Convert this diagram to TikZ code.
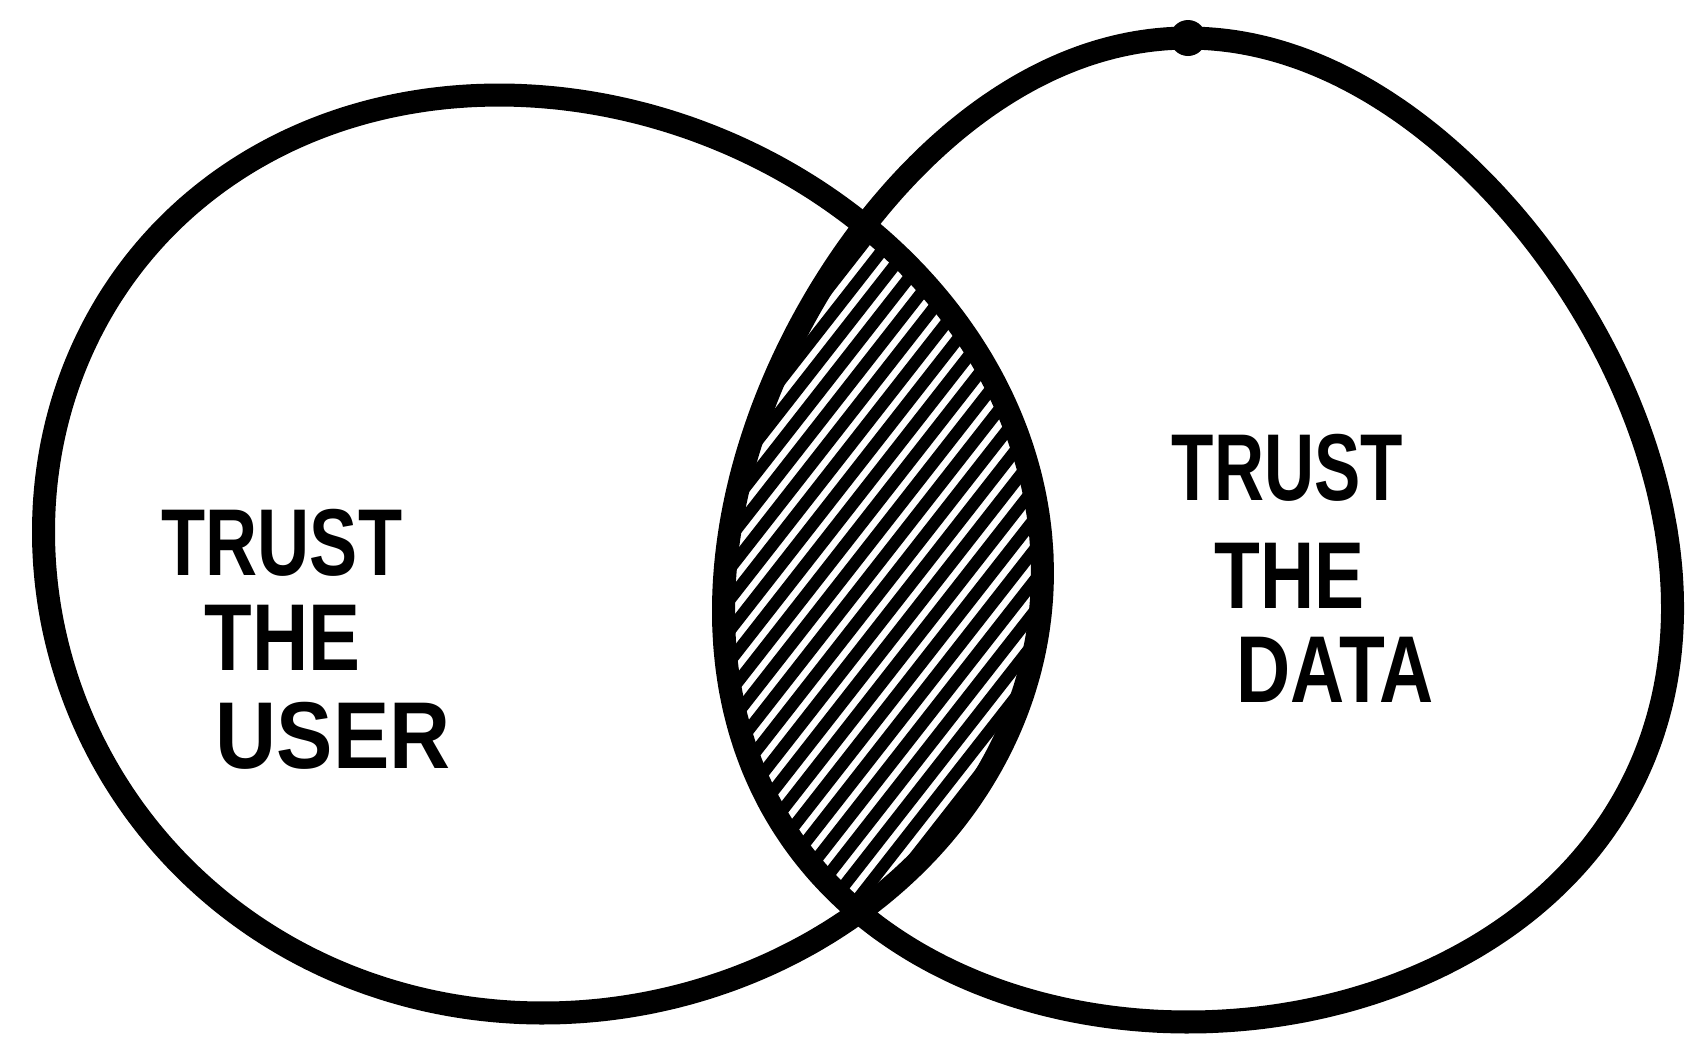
\documentclass[tikz,border=0pt]{standalone}
\usepackage{fontspec}
\setmainfont{Liberation Sans}
\begin{document}
\begin{tikzpicture}[x=0.01cm,y=-0.01cm,
  outline/.style={line width=0.23cm, line join=round, line cap=round},
  hatch/.style={line width=0.12cm, line cap=round},
  word/.style={inner sep=0pt, anchor=base west, font=\bfseries\fontsize{27}{30}\selectfont}]
\useasboundingbox[fill=white] (0,0) rectangle (1685,1047);
\def\leftcurve{plot[domain=0:360, samples=144, smooth, variable=\t]
  ({543+499*cos(\t)+22*sin(\t)*(1-sin(\t))}, {554+459*sin(\t)}) -- cycle}
\def\rightcurve{plot[domain=0:360, samples=144, smooth, variable=\t]
  ({1188+(468+10*cos(\t))*cos(\t)*(1+0.17*sin(\t))}, {530+492*sin(\t)}) -- cycle}
\begin{scope}
  \clip \leftcurve;
  \clip \rightcurve;
  \foreach \k in {-24,...,18}
    \draw[hatch] ({950+\k*15.0-370},{565+\k*11.7+473}) -- ++(740,-946);
\end{scope}
\draw[outline] \leftcurve;
\draw[outline] \rightcurve;
\fill (1188,38) circle[radius=18];
\node[word] (u1) at (161,575) {\scalebox{0.76}[1]{TRUST}};
\node[word] (u2) at (204,670) {\scalebox{0.82}[1]{THE}};
\node[word] (u3) at (215,768) {\scalebox{0.89}[1]{USER}};
\node[word] (d1) at (1171,500) {\scalebox{0.73}[1]{TRUST}};
\node[word] (d2) at (1214,608) {\scalebox{0.79}[1]{THE}};
\node[word] (d3) at (1236,702) {\scalebox{0.79}[1]{DATA}};
\end{tikzpicture}
\end{document}
